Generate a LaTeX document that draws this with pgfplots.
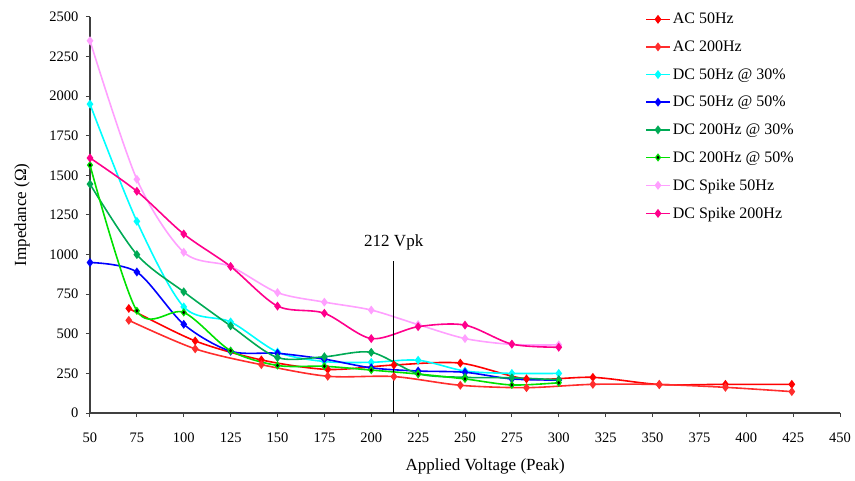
\documentclass[border=0pt]{standalone}
\usepackage{fontspec}
\setmainfont{Liberation Serif}
\usepackage{pgfplots}
\pgfplotsset{compat=1.18}

\definecolor{ac50}{RGB}{255,0,0}
\definecolor{ac200}{RGB}{255,45,45}
\definecolor{dcfa}{RGB}{0,255,255}
\definecolor{dcfb}{RGB}{0,0,255}
\definecolor{dcta}{RGB}{0,170,85}
\definecolor{dctb}{RGB}{0,225,0}
\definecolor{spf}{RGB}{255,160,255}
\definecolor{spt}{RGB}{255,0,140}

% AC runs at RMS steps, so x is in peak volts
\pgfplotstableread{
x     a50  a200
70.7  660  585
106.1 455  405
141.4 335  305
176.8 275  232
212.1 303  230
247.5 315  175
282.8 215  160
318.2 225  181
353.6 180  180
388.9 181  162
424.3 181  135
}\actable

\pgfplotstableread{
x   f30  f50  t30  t50  s50  s200
50  1950 950  1445 1565 2350 1610
75  1210 890  1000 645  1475 1400
100 670  560  765  635  1015 1130
125 575  390  550  393  925  925
150 385  377  350  300  760  675
175 325  340  355  295  700  630
200 320  285  383  271  650  470
225 333  265  248  246  558  545
250 265  257  225  215  470  555
275 250  215  222  177  433  435
300 250  208  210  191  430  415
}\dctable

\begin{document}
\begin{tikzpicture}
\begin{axis}[
  scale only axis, width=750bp, height=396bp,
  xmin=50, xmax=450, ymin=0, ymax=2500,
  xtick={50,75,...,450}, ytick={0,250,...,2500},
  axis lines=left, axis line style={-, line width=1.6bp, black!75},
  tick align=outside, major tick length=4bp,
  tick style={line width=1bp, black!75},
  /pgf/number format/assume math mode=true,
  /pgf/number format/1000 sep={},
  tick label style={font=\fontsize{14.5bp}{16bp}\selectfont},
  xticklabel style={yshift=-12bp},
  yticklabel style={xshift=-4bp},
  xlabel={Applied Voltage (Peak)},
  ylabel={Impedance (Ω)},
  label style={font=\fontsize{17bp}{20bp}\selectfont},
  xlabel style={at={(axis description cs:0.527,-0.136)}, anchor=center},
  ylabel style={at={(axis description cs:-0.0907,0.5)}, anchor=center, rotate=0},
  legend style={draw=none, fill=none, at={(0.74,1.015)}, anchor=north west,
    font=\fontsize{16bp}{18bp}\selectfont, row sep=11.5bp, inner sep=0pt,
    cells={anchor=west}},
  legend image code/.code={\draw[mark repeat=2,mark phase=2]
    plot coordinates {(0bp,0bp)(12bp,0bp)(24bp,0bp)};},
  every axis plot/.append style={smooth, line width=1.6bp, mark=diamond*,
    mark size=3.2bp, mark options={solid}},
  clip=false,
]
\addplot[ac50] table[x=x, y=a50] {\actable};
\addlegendentry{AC 50Hz}
\addplot[ac200] table[x=x, y=a200] {\actable};
\addlegendentry{AC 200Hz}
\addplot[dcfa] table[x=x, y=f30] {\dctable};
\addlegendentry{DC 50Hz @ 30\%}
\addplot[dcfb] table[x=x, y=f50] {\dctable};
\addlegendentry{DC 50Hz @ 50\%}
\addplot[dcta] table[x=x, y=t30] {\dctable};
\addlegendentry{DC 200Hz @ 30\%}
\addplot[dctb, mark options={fill=black, draw=dctb, line width=1.2bp}] table[x=x, y=t50] {\dctable};
\addlegendentry{DC 200Hz @ 50\%}
\addplot[spf] table[x=x, y=s50] {\dctable};
\addlegendentry{DC Spike 50Hz}
\addplot[spt] table[x=x, y=s200] {\dctable};
\addlegendentry{DC Spike 200Hz}
\addplot[black, line width=1.2bp, mark=none, sharp plot, forget plot] coordinates {(212,0) (212,960)};
\node[font=\fontsize{17bp}{20bp}\selectfont] at (axis cs:212,1080) {212 Vpk};
\end{axis}
\pgfresetboundingbox
\path[use as bounding box] ([shift={(-90bp,-68bp)}]current axis.south west)
  rectangle ([shift={(15bp,17bp)}]current axis.north east);
\end{tikzpicture}
\end{document}
